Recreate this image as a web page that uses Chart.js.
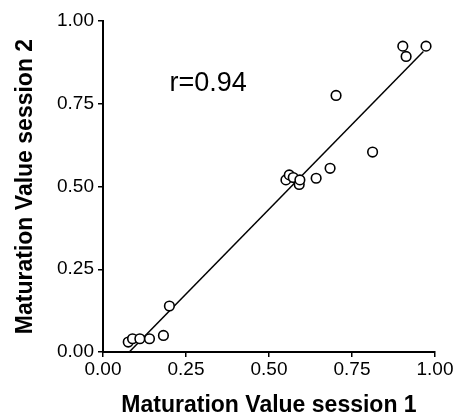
<!DOCTYPE html>
<html>
<head>
<meta charset="utf-8">
<script src="https://cdn.jsdelivr.net/npm/chart.js@4"></script>
<style>
    html, body { margin: 0; padding: 0; background: #fff; }
    #wrap { width: 458px; height: 417px; }
</style>
</head>
<body>
<div id="wrap"><canvas id="maturationChart" width="458" height="417"></canvas></div>
<script>
// session 1 (x) and session 2 (y) maturation values
const session1 = [0.076, 0.089, 0.111, 0.140, 0.182, 0.200, 0.551, 0.561, 0.573, 0.591, 0.593, 0.642, 0.684, 0.702, 0.812, 0.903, 0.913, 0.973];
const session2 = [0.030, 0.040, 0.040, 0.040, 0.050, 0.139, 0.520, 0.535, 0.527, 0.506, 0.520, 0.525, 0.555, 0.775, 0.604, 0.924, 0.893, 0.924];

// regression line end points
const fitX = [0.079, 0.965];
const fitY = [0.000, 0.908];

const tickValues = [0, 0.25, 0.5, 0.75, 1];
const xTitle = 'Maturation Value session 1';
const yTitle = 'Maturation Value session 2';
const rLabel = 'r=0.94';

const fontFamily = '"Liberation Sans", Arial, sans-serif';

// draws the r value inside the plot area
const rTextPlugin = {
    id: 'rText',
    afterDatasetsDraw(chart) {
        const ctx = chart.ctx;
        const x = chart.scales.x.getPixelForValue(0.2);
        const y = chart.scales.y.getPixelForValue(0.81);
        ctx.save();
        ctx.fillStyle = '#000';
        ctx.font = '27px ' + fontFamily;
        ctx.textAlign = 'left';
        ctx.textBaseline = 'middle';
        ctx.fillText(rLabel, x, y);
        ctx.restore();
    }
};

const ctx = document.getElementById('maturationChart').getContext('2d');

new Chart(ctx, {
    type: 'scatter',
    data: {
        datasets: [
            {
                label: 'fit',
                type: 'line',
                data: fitX.map((x, i) => ({ x: x, y: fitY[i] })),
                borderColor: '#000',
                borderWidth: 1.5,
                pointRadius: 0,
                fill: false,
                order: 2
            },
            {
                label: 'subjects',
                data: session1.map((x, i) => ({ x: x, y: session2[i] })),
                pointRadius: 4.8,
                pointBorderWidth: 1.6,
                pointBackgroundColor: '#fff',
                pointBorderColor: '#000',
                order: 1
            }
        ]
    },
    options: {
        responsive: false,
        animation: false,
        layout: {
            padding: { top: 21, right: 23, bottom: 0, left: 0 }
        },
        plugins: {
            legend: { display: false },
            tooltip: { enabled: false }
        },
        scales: {
            x: {
                type: 'linear',
                min: 0,
                max: 1,
                afterBuildTicks: (axis) => { axis.ticks = tickValues.map(v => ({ value: v })); },
                afterFit: (axis) => { axis.height = 65; },
                border: { color: '#000', width: 2 },
                grid: { drawOnChartArea: false, drawTicks: true, tickLength: 5, color: '#000', lineWidth: 1.5 },
                ticks: {
                    color: '#000',
                    padding: 1,
                    maxRotation: 0,
                    font: { family: fontFamily, size: 19 },
                    callback: (v) => v.toFixed(2)
                },
                title: {
                    display: true,
                    text: xTitle,
                    color: '#000',
                    padding: { top: 0, bottom: 0 },
                    font: { family: fontFamily, size: 23, weight: 'bold', lineHeight: 1 }
                }
            },
            y: {
                type: 'linear',
                min: 0,
                max: 1,
                afterBuildTicks: (axis) => { axis.ticks = tickValues.map(v => ({ value: v })); },
                afterFit: (axis) => { axis.width = 103; },
                border: { color: '#000', width: 2 },
                grid: { drawOnChartArea: false, drawTicks: true, tickLength: 5, color: '#000', lineWidth: 1.5 },
                ticks: {
                    color: '#000',
                    padding: 4,
                    font: { family: fontFamily, size: 19 },
                    callback: (v) => v.toFixed(2)
                },
                title: {
                    display: true,
                    text: yTitle,
                    color: '#000',
                    padding: { top: 14, bottom: 14 },
                    font: { family: fontFamily, size: 23, weight: 'bold', lineHeight: 1 }
                }
            }
        }
    },
    plugins: [rTextPlugin]
});
</script>
</body>
</html>
